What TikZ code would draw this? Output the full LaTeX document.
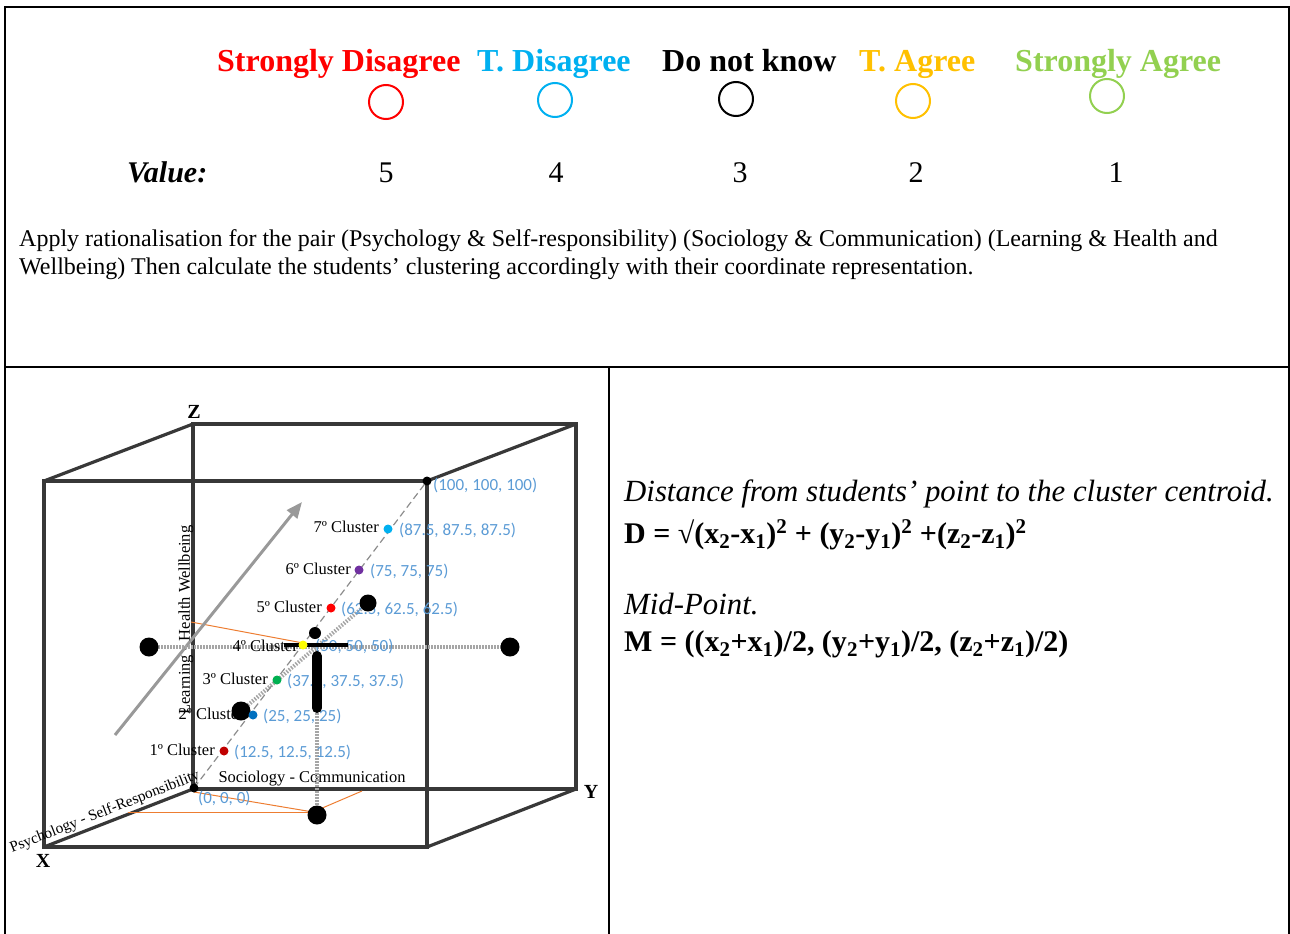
\documentclass[tikz,border=0pt]{standalone}
\usepackage{fontspec}
\setmainfont{Liberation Serif}
\newfontfamily\carlito{Carlito}
\usetikzlibrary{arrows.meta}
\definecolor{sdred}{RGB}{255,0,0}
\definecolor{tdblue}{RGB}{0,176,240}
\definecolor{tagold}{RGB}{255,192,0}
\definecolor{sagreen}{RGB}{146,208,80}
\definecolor{coordblue}{RGB}{91,155,213}
\definecolor{orangeline}{RGB}{237,125,49}
\definecolor{cone}{RGB}{192,0,0}
\definecolor{ctwo}{RGB}{0,112,192}
\definecolor{cthree}{RGB}{0,176,80}
\definecolor{cfour}{RGB}{255,255,0}
\definecolor{cfive}{RGB}{255,0,0}
\definecolor{csix}{RGB}{112,48,160}
\definecolor{cseven}{RGB}{0,176,240}
\begin{document}
\begin{tikzpicture}[x=1pt,y=-1pt,
  tbl/.style={line width=1.5pt, draw=black},
  hdr/.style={anchor=base west, inner sep=0, font=\fontsize{32}{36}\selectfont\bfseries},
  ring/.style={circle, minimum size=34pt, inner sep=0, line width=2pt},
  valnum/.style={anchor=base, inner sep=0, font=\fontsize{30}{34}\selectfont},
  bodytxt/.style={anchor=base west, inner sep=0, font=\fontsize{24}{28}\selectfont},
  ittxt/.style={anchor=base west, inner sep=0, font=\fontsize{30.8}{34}\selectfont\itshape},
  bftxt/.style={anchor=base west, inner sep=0, font=\fontsize{30}{34}\selectfont\bfseries},
  cube/.style={line width=3.2pt, draw=black!78},
  axlab/.style={inner sep=0, font=\fontsize{20}{22}\selectfont\bfseries},
  axname/.style={inner sep=0, font=\fontsize{16.5}{18}\selectfont},
  clab/.style={anchor=east, inner sep=0, font=\fontsize{16.5}{18}\selectfont},
  crd/.style={anchor=west, inner sep=0, text=coordblue, font=\carlito\fontsize{17}{19}\selectfont},
  cdot/.style={circle, inner sep=0, minimum size=9pt, draw=none},
  bigdot/.style={circle, inner sep=0, minimum size=19pt, fill=black, draw=none},
  dotl/.style={line width=4pt, draw=black!35, dash pattern=on 1.5pt off 1.5pt},
  diag/.style={line width=1.2pt, draw=black!45, dash pattern=on 7pt off 4pt},
  orl/.style={line width=1pt, draw=orangeline},
  grayarrow/.style={line width=3pt, draw=black!40, -{Triangle[length=16pt,width=13pt,fill=black!40]}}
]
\useasboundingbox (0,0) rectangle (1290,934);

% ---------- table frame ----------
\draw[tbl] (5,934) -- (5,7) -- (1289,7) -- (1289,934);
\draw[tbl] (5,367) -- (1289,367);
\draw[tbl] (609,367) -- (609,934);

% ---------- header ----------
\node[hdr, text=sdred]   (hsd) at (217,71) {Strongly Disagree};
\node[hdr, text=tdblue]  (htd) at (477,71) {T. Disagree};
\node[hdr, text=black]   (hdk) at (662,71) {Do not know};
\node[hdr, text=tagold]  (hta) at (859,71) {T. Agree};
\node[hdr, text=sagreen] (hsa) at (1015,71) {Strongly Agree};

\node[ring, draw=sdred]   (rsd) at (386,102) {};
\node[ring, draw=tdblue]  (rtd) at (555,100) {};
\node[ring, draw=black]   (rdk) at (736,99) {};
\node[ring, draw=tagold]  (rta) at (913,101) {};
\node[ring, draw=sagreen] (rsa) at (1107,96) {};

\node[anchor=base west, inner sep=0, font=\fontsize{30}{34}\selectfont\bfseries\itshape] (vlab) at (127,182) {Value:};
\node[valnum] (v5) at (386,182) {5};
\node[valnum] (v4) at (556,182) {4};
\node[valnum] (v3) at (740,182) {3};
\node[valnum] (v2) at (916,182) {2};
\node[valnum] (v1) at (1116,182) {1};

\node[bodytxt] (b1) at (19,246) {Apply rationalisation for the pair (Psychology \& Self-responsibility) (Sociology \& Communication) (Learning \& Health and};
\node[bodytxt] (b2) at (19,274) {Wellbeing) Then calculate the students’ clustering accordingly with their coordinate representation.};

% ---------- right cell ----------
\node[ittxt] (dist) at (624,501) {Distance from students’ point to the cluster centroid.};
\node[bftxt] (dform) at (624,543) {D = √(x\textsubscript{2}-x\textsubscript{1})\textsuperscript{2} + (y\textsubscript{2}-y\textsubscript{1})\textsuperscript{2} +(z\textsubscript{2}-z\textsubscript{1})\textsuperscript{2}};
\node[ittxt] (mid) at (624,614) {Mid-Point.};
\node[bftxt] (mform) at (624,651) {M = ((x\textsubscript{2}+x\textsubscript{1})/2, (y\textsubscript{2}+y\textsubscript{1})/2, (z\textsubscript{2}+z\textsubscript{1})/2)};

% ---------- cube ----------
\coordinate (FTL) at (44,481);
\coordinate (FTR) at (427,481);
\coordinate (FBR) at (427,847);
\coordinate (FBL) at (44,847);
\coordinate (BTL) at (193,424);
\coordinate (BTR) at (576,424);
\coordinate (BBR) at (576,789);
\coordinate (BBL) at (193,789);

\draw[cube] (BTL) -- (BTR) -- (BBR) -- (BBL) -- cycle;
\draw[cube] (FTL) -- (BTL);
\draw[cube] (FTR) -- (BTR);
\draw[cube] (FBR) -- (BBR);
\draw[cube] (FBL) -- (BBL);
\draw[cube] (FTL) -- (FTR) -- (FBR) -- (FBL) -- cycle;

\node[axlab] (zl) at (194,412) {Z};
\node[axlab] (yl) at (591,792) {Y};
\node[axlab] (xl) at (43,861) {X};

% orange projection lines
\coordinate (oa) at (191,622);
\coordinate (ob) at (303,643);
\coordinate (oc) at (194,792);
\coordinate (od) at (313,812);
\coordinate (oe) at (362,791);
\coordinate (of) at (128,812);
\draw[orl] (oa) -- (ob);
\draw[orl] (oc) -- (od) -- (oe);
\draw[orl] (of) -- (od);

% gray arrow
\coordinate (arS) at (115,735);
\coordinate (arE) at (302,502);
\draw[grayarrow] (arS) -- (arE);

% axis names
\node[axname, rotate=90] (lhw) at (186,620) {Learning - Health Wellbeing};
\node[axname, rotate=21.4, font=\fontsize{15.3}{17}\selectfont] (pss) at (105,812) {Psychology - Self-Responsibility};
\node[axname] (scm) at (312,779) {Sociology - Communication};

% big black points (positions)
\coordinate (bA) at (149,647);
\coordinate (bB) at (510,647);
\coordinate (bC) at (368,603);
\coordinate (bD) at (241,711);
\coordinate (bE) at (317,815);
\coordinate (vtop) at (317,650);

% dotted gray lines
\draw[dotl] (bA) -- (bB);
\draw[dotl] (bD) -- (bC);
\draw[dotl] (vtop) -- (bE);

% diagonal dashed line
\coordinate (o) at (194,788);
\coordinate (p100) at (427,481);
\draw[diag] (o) -- (p100);

% cluster labels
\coordinate (k1) at (224,751);
\coordinate (k2) at (253,715);
\coordinate (k3) at (277,680);
\coordinate (k4) at (303,645);
\coordinate (k5) at (331,608);
\coordinate (k6) at (359,570);
\coordinate (k7) at (388,529);

\node[clab] (l1) at ([xshift=-9pt,yshift=1.5pt]k1) {1º Cluster};
\node[clab] (l2) at ([xshift=-9pt,yshift=1.5pt]k2) {2º Cluster};
\node[clab] (l3) at ([xshift=-9pt,yshift=1.5pt]k3) {3º Cluster};
\node[clab] (l4) at ([xshift=-5pt,yshift=-1pt]k4) {4º Cluster};
\node[clab] (l5) at ([xshift=-9pt,yshift=1pt]k5) {5º Cluster};
\node[clab] (l6) at ([xshift=-8pt,yshift=1pt]k6) {6º Cluster};
\node[clab] (l7) at ([xshift=-9pt,yshift=2pt]k7) {7º Cluster};

\node[crd] (t1) at ([xshift=10pt,yshift=-1pt]k1) {(12.5, 12.5, 12.5)};
\node[crd] (t2) at ([xshift=10pt,yshift=-1pt]k2) {(25, 25, 25)};
\node[crd] (t3) at ([xshift=10pt,yshift=-1pt]k3) {(37.5, 37.5, 37.5)};
\node[crd] (t4) at ([xshift=12pt,yshift=-1pt]k4) {(50, 50, 50)};
\node[crd] (t5) at ([xshift=10pt,yshift=-1pt]k5) {(62.5, 62.5, 62.5)};
\node[crd] (t6) at ([xshift=11pt,yshift=-1pt]k6) {(75, 75, 75)};
\node[crd] (t7) at ([xshift=11pt,yshift=-1pt]k7) {(87.5, 87.5, 87.5)};
\node[crd] (t0) at ([xshift=4pt,yshift=-10pt]o) {(0, 0, 0)};
\node[crd] (t100) at ([xshift=6pt,yshift=-4pt]p100) {(100, 100, 100)};

% black T shape
\draw[line width=4pt, black] (284,645) -- (348,645);
\draw[line width=10pt, black, line cap=round] (317,656) -- (317,708);

% big dots
\node[bigdot] (nA) at (bA) {};
\node[bigdot] (nB) at (bB) {};
\node[bigdot, minimum size=17pt] (nC) at (bC) {};
\node[bigdot] (nD) at (bD) {};
\node[bigdot] (nE) at (bE) {};
\node[bigdot, minimum size=12pt] (nF) at (315,633) {};

% cluster dots
\node[cdot, fill=cone]   (d1) at (k1) {};
\node[cdot, fill=ctwo]   (d2) at (k2) {};
\node[cdot, fill=cthree] (d3) at (k3) {};
\node[cdot, fill=cfour]  (d4) at (k4) {};
\node[cdot, fill=cfive]  (d5) at (k5) {};
\node[cdot, fill=csix]   (d6) at (k6) {};
\node[cdot, fill=cseven] (d7) at (k7) {};
\node[cdot, fill=black]  (d0) at (o) {};
\node[cdot, fill=black]  (d100) at (p100) {};
\end{tikzpicture}
\end{document}
